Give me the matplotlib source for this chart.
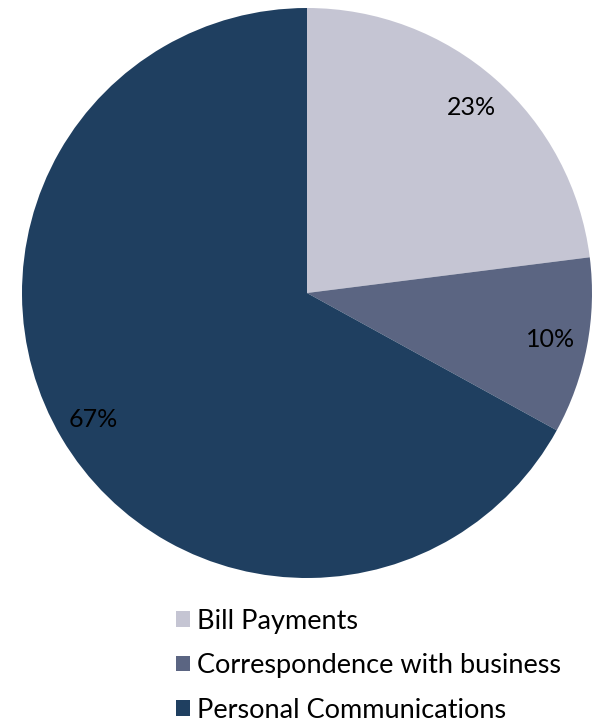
import matplotlib.pyplot as plt

plt.rcParams['font.family'] = ['Lato', 'DejaVu Sans']

# share of mail volume by purpose
categories = ['Bill Payments', 'Correspondence with business', 'Personal Communications']
shares = [23, 10, 67]
colors = ['#C5C5D3', '#5B6582', '#1F3F60']

W, H = 593, 723
fig = plt.figure(figsize=(W / 100, H / 100), dpi=100)

# pie centre and radius in pixels
cx, cy, r = 307, 293, 285
ax = fig.add_axes([(cx - r) / W, (H - cy - r) / H, 2 * r / W, 2 * r / H])

wedges, texts, autotexts = ax.pie(
    shares, colors=colors, startangle=90, counterclock=False,
    autopct='%d%%', pctdistance=0.87, radius=1,
    textprops={'fontsize': 18, 'color': 'black'},
    wedgeprops={'linewidth': 0})
ax.set_xlim(-1, 1)
ax.set_ylim(-1, 1)
ax.set_aspect('equal')
ax.axis('off')

fig.legend(wedges, categories, loc='upper left',
           bbox_to_anchor=(162 / W, 1 - 595 / H), frameon=False,
           fontsize=19.5, handlelength=0.52, handleheight=0.52,
           handletextpad=0.26, labelspacing=0.72, borderpad=0)

fig.savefig('out.png', dpi=100)
